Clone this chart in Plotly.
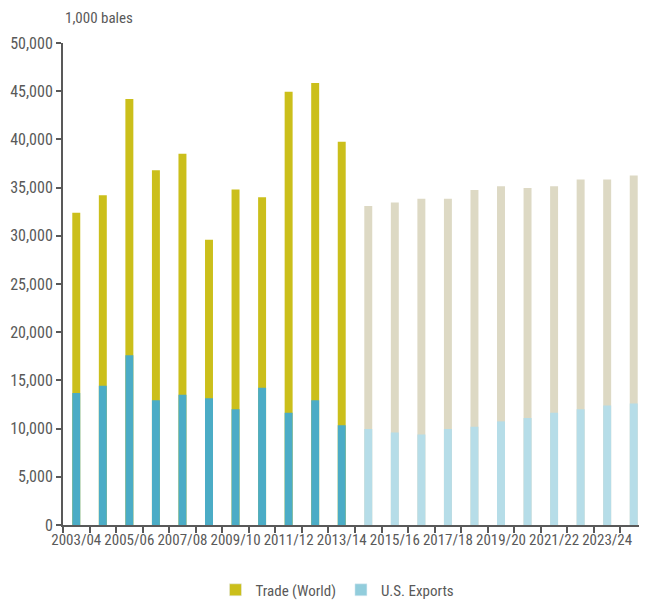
import plotly.graph_objects as go

years = ["2003/04", "2004/05", "2005/06", "2006/07", "2007/08", "2008/09", "2009/10",
         "2010/11", "2011/12", "2012/13", "2013/14", "2014/15", "2015/16", "2016/17",
         "2017/18", "2018/19", "2019/20", "2020/21", "2021/22", "2022/23", "2023/24",
         "2024/25"]
trade_world = [32400, 34200, 44200, 36800, 38500, 29600, 34800, 34000, 44950, 45850, 39750,
               33100, 33450, 33850, 33850, 34750, 35150, 34950, 35150, 35850, 35850, 36250]
us_exports = [13700, 14450, 17600, 12950, 13500, 13150, 12000, 14250, 11650, 12950, 10350,
              9950, 9600, 9400, 9950, 10200, 10750, 11100, 11650, 12000, 12400, 12600]
n_hist = 11  # 2003/04 .. 2013/14 actual; later years projected

trade_colors = ["#CBBF1B" if i < n_hist else "#DDD9C4" for i in range(len(years))]
us_colors = ["#4BACC6" if i < n_hist else "#B6DDE8" for i in range(len(years))]
tick_text = [y if i % 2 == 0 else "" for i, y in enumerate(years)]

fig = go.Figure()
fig.add_trace(go.Bar(x=years, y=trade_world, marker=dict(color=trade_colors, line=dict(width=0)),
                     width=0.3, name="Trade (World)", showlegend=False))
fig.add_trace(go.Bar(x=years, y=us_exports, marker=dict(color=us_colors, line=dict(width=0)),
                     width=0.3, name="U.S. Exports", showlegend=False))
fig.add_trace(go.Bar(x=[None], y=[None], marker=dict(color="#CBBF1B"), name="Trade (World)"))
fig.add_trace(go.Bar(x=[None], y=[None], marker=dict(color="#92CDDC"), name="U.S. Exports"))

axis_col = "#595959"
fig.update_layout(
    width=639, height=593,
    barmode="overlay",
    plot_bgcolor="white", paper_bgcolor="white",
    margin=dict(l=55, r=0, t=35, b=76, autoexpand=False),
    font=dict(family="Liberation Sans Narrow, Roboto Condensed, Roboto, Arial", size=14, color=axis_col),
    showlegend=True,
    legend=dict(orientation="h", x=0.47, xanchor="center", y=-0.135, yanchor="middle",
                font=dict(size=15, color=axis_col), itemwidth=30, traceorder="normal"),
    xaxis=dict(type="category", tickvals=years, ticktext=tick_text, tickson="boundaries",
               ticks="outside", ticklen=6, tickwidth=1.5, tickcolor=axis_col,
               showline=True, linecolor=axis_col, linewidth=2, showgrid=False,
               range=[-0.5, len(years) - 0.5], tickangle=0, automargin=False,
               tickfont=dict(size=15, color=axis_col)),
    yaxis=dict(range=[0, 50000], dtick=5000, tickformat=",", ticks="outside", ticklen=5,
               tickwidth=1.5, tickcolor=axis_col, showline=True, linecolor=axis_col, linewidth=2,
               showgrid=False, zeroline=False, automargin=False,
               tickfont=dict(size=16, color=axis_col)),
    annotations=[dict(text="1,000 bales", xref="paper", yref="paper", x=0, y=1.0, yshift=25,
                      xanchor="left", yanchor="middle", showarrow=False,
                      font=dict(size=15, color=axis_col))],
)

fig.write_html("out.html")
